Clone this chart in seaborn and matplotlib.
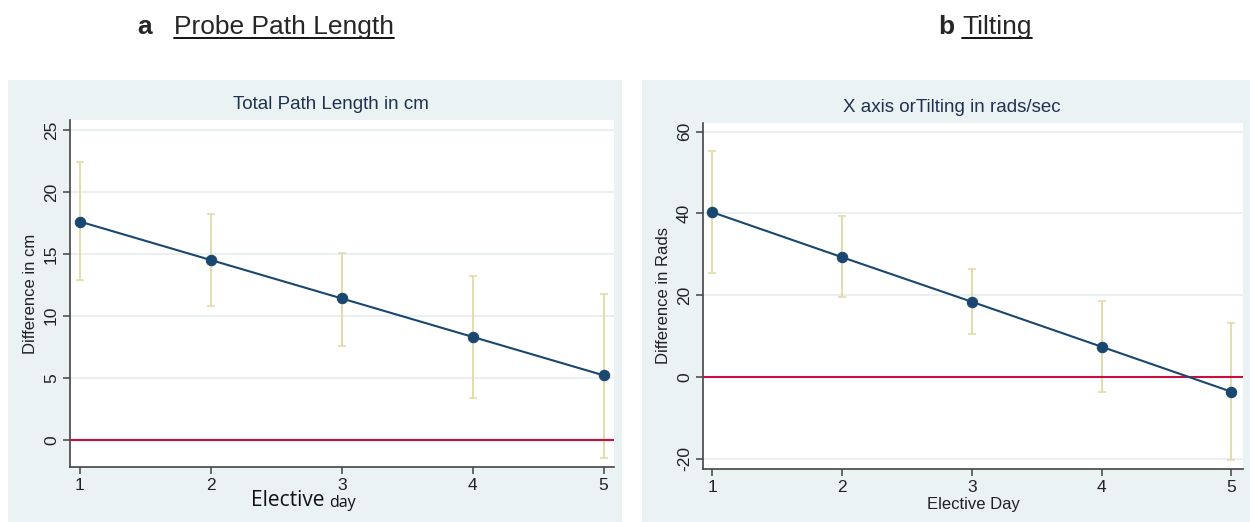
import numpy as np
import pandas as pd
import matplotlib
matplotlib.use('Agg')
import matplotlib.pyplot as plt
import seaborn as sns
from matplotlib.patches import Rectangle

# ── data ─────────────────────────────────────────────────────
days = [1, 2, 3, 4, 5]

path_mean = [17.6, 14.5, 11.4, 8.3, 5.2]
path_lo   = [12.9, 10.8, 7.6, 3.4, -1.5]
path_hi   = [22.4, 18.2, 15.1, 13.2, 11.8]

tilt_mean = [40.3, 29.3, 18.4, 7.4, -3.6]
tilt_lo   = [25.5, 19.5, 10.4, -3.7, -20.3]
tilt_hi   = [55.3, 39.3, 26.4, 18.6, 13.2]

path_yticks = [0, 5, 10, 15, 20, 25]
tilt_yticks = [-20, 0, 20, 40, 60]

# ── style ────────────────────────────────────────────────────
sns.set_style('white')
plt.rcParams['font.family'] = ['Liberation Sans', 'DejaVu Sans']

NAVY = '#1a476f'
KHAKI = '#e3dcaa'
RED = '#c8103c'
PANEL_BG = '#eaf2f3'
GRID = '#e6eeef'
TITLE_C = '#1e3250'

fig = plt.figure(figsize=(12.5, 5.22), dpi=100)
W, H = 1250, 522


def px_axes(x0, y0, x1, y1):
    # pixel box (top-left origin) -> figure axes
    return fig.add_axes([x0 / W, (H - y1) / H, (x1 - x0) / W, (y1 - y0) / H])


# grey-blue panel backgrounds
for x0, x1 in [(8, 622), (642, 1250)]:
    fig.patches.append(Rectangle((x0 / W, 0), (x1 - x0) / W, (H - 80) / H,
                                 transform=fig.transFigure, facecolor=PANEL_BG,
                                 edgecolor='none', zorder=-5))


def draw_panel(ax, mean, lo, hi, yticks, ylim, xlim, title, ylabel):
    df = pd.DataFrame({'day': days, 'mean': mean})
    lo = np.array(lo)
    hi = np.array(hi)
    ax.set_facecolor('white')
    ax.errorbar(days, (lo + hi) / 2, yerr=(hi - lo) / 2, fmt='none',
                ecolor=KHAKI, elinewidth=1.4, capsize=3, capthick=1.2, zorder=2)
    ax.axhline(0, color=RED, lw=1.5, zorder=3)
    sns.lineplot(data=df, x='day', y='mean', ax=ax, color=NAVY, lw=1.5,
                 marker='o', markersize=7.5, markeredgecolor=NAVY, zorder=4)
    ax.set_xlim(*xlim)
    ax.set_ylim(*ylim)
    ax.set_xticks(days)
    ax.set_yticks(yticks)
    ax.set_yticklabels([str(t) for t in yticks], rotation=90, va='center')
    ax.grid(axis='y', color=GRID, lw=1.2)
    ax.set_axisbelow(True)
    for s in ['top', 'right']:
        ax.spines[s].set_visible(False)
    for s in ['left', 'bottom']:
        ax.spines[s].set_color('#444444')
        ax.spines[s].set_linewidth(1.2)
    ax.tick_params(axis='both', direction='out', length=5, width=1.1,
                   bottom=True, left=True, pad=3,
                   color='#444444', labelsize=12.5, labelcolor='#222222')
    ax.set_xlabel('')
    ax.set_ylabel(ylabel, fontsize=12, color='#222222', labelpad=4)
    ax.set_title(title, fontsize=13.5, color=TITLE_C, pad=8)


ax1 = px_axes(70, 120, 614, 467)
draw_panel(ax1, path_mean, path_lo, path_hi, path_yticks, (-2.2, 25.8),
           (0.924, 5.08), 'Total Path Length in cm', 'Difference in cm')
ax1.title.set_position((0.48, 1.0))
fig.text(251 / W, (H - 500) / H, 'Elective', fontsize=15, color='#111111',
         va='center', ha='left', family=['Open Sans', 'DejaVu Sans'])
fig.text(329 / W, (H - 503) / H, 'day', fontsize=11.5, color='#111111',
         va='center', ha='left', family=['Open Sans', 'DejaVu Sans'])

ax2 = px_axes(703, 123, 1243, 469)
draw_panel(ax2, tilt_mean, tilt_lo, tilt_hi, tilt_yticks, (-22.5, 62.1),
           (0.93, 5.09), 'X axis orTilting in rads/sec', 'Difference in Rads')
ax2.title.set_position((0.46, 1.0))
ax2.set_xlabel('Elective Day', fontsize=12, color='#222222', labelpad=1)

# header labels
fig.text(137 / W, (H - 27) / H, 'a', fontsize=19, fontweight='bold', va='center')
t1 = fig.text(174 / W, (H - 27) / H, 'Probe Path Length', fontsize=19, va='center')
fig.text(938 / W, (H - 27) / H, 'b', fontsize=19, fontweight='bold', va='center')
t2 = fig.text(962 / W, (H - 27) / H, 'Tilting', fontsize=19, va='center')

# underline the header titles
fig.canvas.draw()
for t in (t1, t2):
    bb = t.get_window_extent().transformed(fig.transFigure.inverted())
    fig.add_artist(plt.Line2D([bb.x0, bb.x1], [bb.y0 + 0.002, bb.y0 + 0.002],
                              transform=fig.transFigure, color='black', lw=1.3))

fig.savefig('out.png', dpi=100)
